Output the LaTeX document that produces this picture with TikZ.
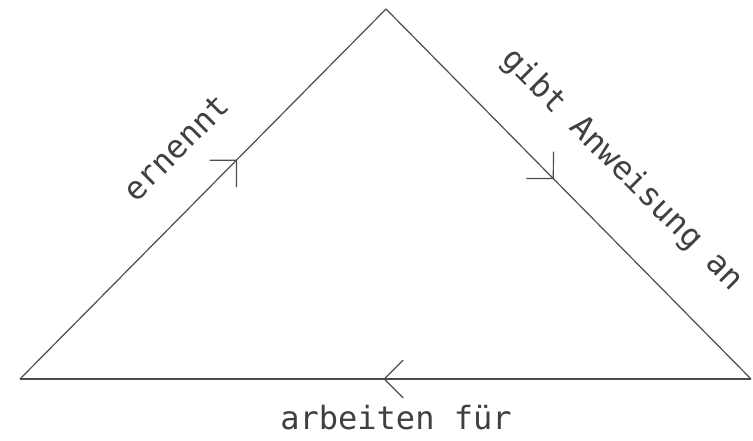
\documentclass[tikz,border=0pt]{standalone}
\usepackage{fontspec}
\newfontfamily\lblfont{DejaVu Sans Mono}
\usetikzlibrary{arrows.meta, decorations.markings}

\begin{document}
\begin{tikzpicture}[x=1pt, y=1pt,
    side/.style={draw=black!70, line width=1.2pt},
    flow/.style={postaction={decorate, decoration={markings,
        mark=at position #1 with {\arrow[black!70, line width=1.2pt]{Straight Barb[length=19pt, width=38pt]}}}}},
    lbl/.style={inner sep=0pt, text=black!75, font=\lblfont\fontsize{32}{38}\selectfont}]
    \useasboundingbox (0,0) rectangle (753,440);

    \coordinate (top) at (386,431);
    \coordinate (bl) at (20,61);
    \coordinate (br) at (751,61);

    \draw[side, flow=0.593] (bl) -- (top);
    \draw[side, flow=0.46] (top) -- (br);
    \draw[side, flow=0.503] (br) -- (bl);

    \node[lbl, rotate=45] (ernennt) at (176,292) {ernennt};
    \node[lbl, rotate=-45] (anweisung) at (622,270) {gibt Anweisung an};
    \node[lbl, anchor=base] (arbeiten) at (396,11) {arbeiten für};
\end{tikzpicture}
\end{document}
